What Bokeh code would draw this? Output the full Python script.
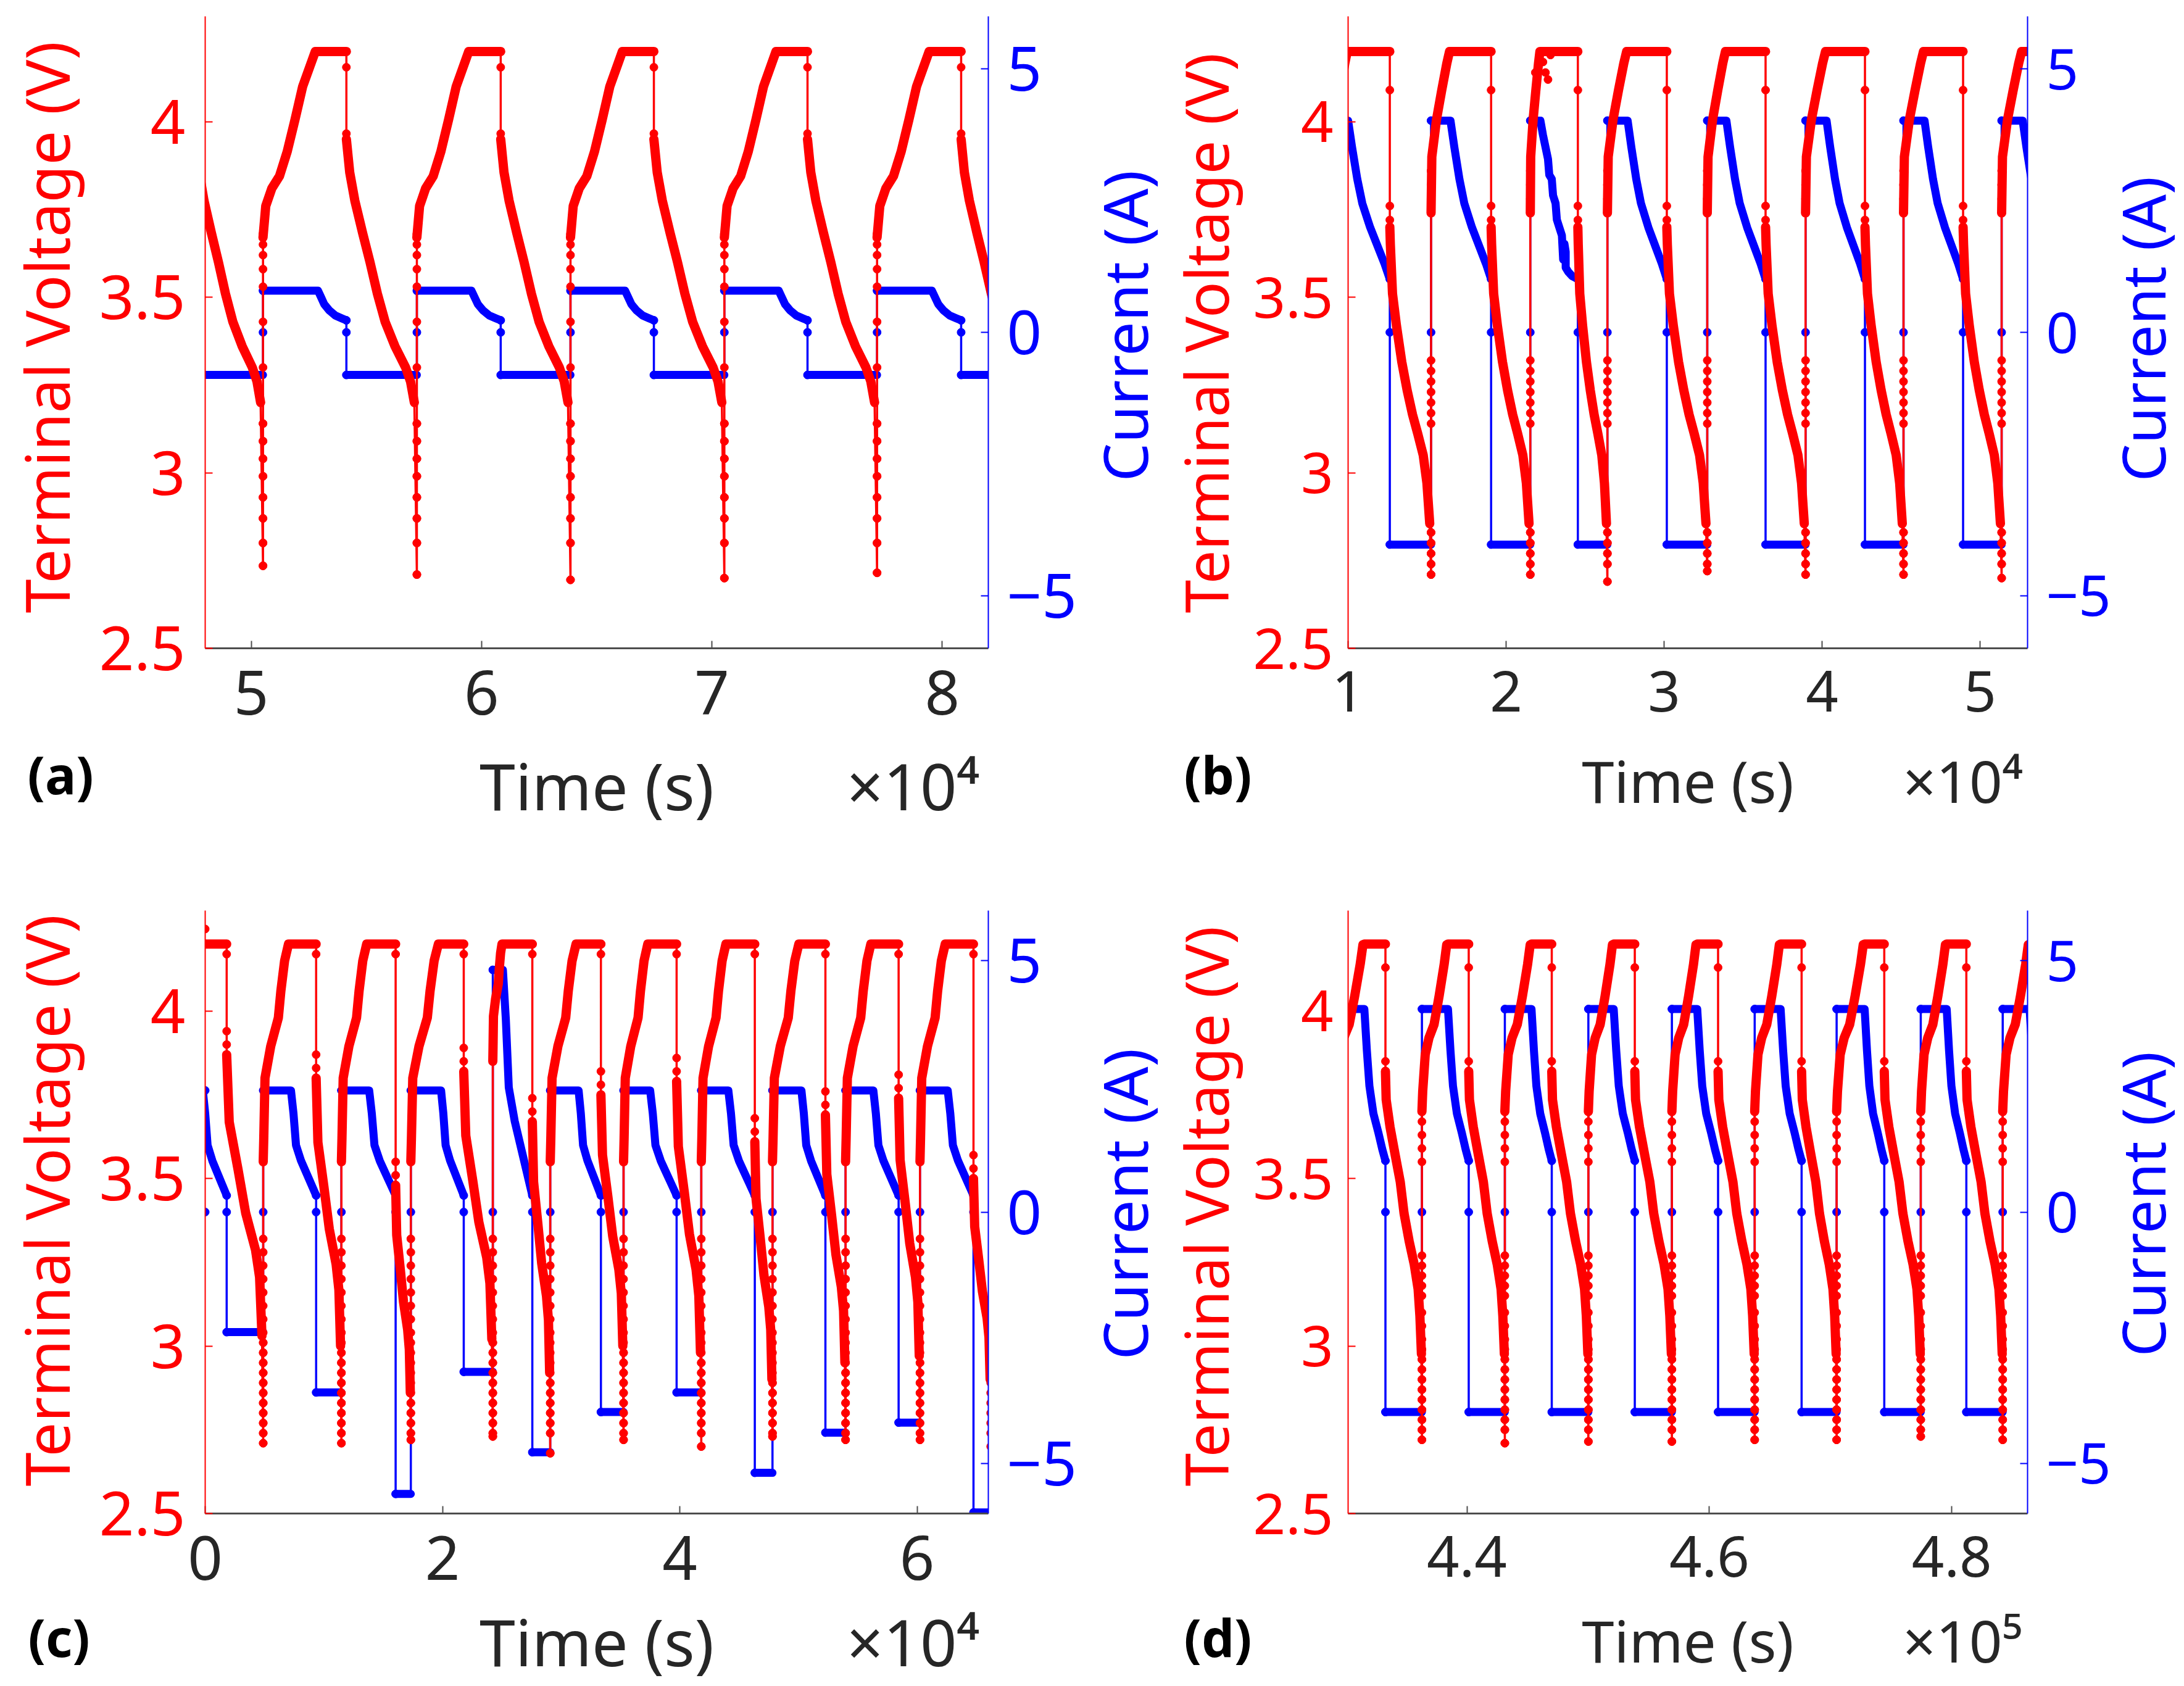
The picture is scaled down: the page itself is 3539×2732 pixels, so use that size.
import math

import numpy as np
from bokeh.embed import file_html
from bokeh.layouts import column, row
from bokeh.models import FixedTicker, Label, LinearAxis, Range1d, Spacer
from bokeh.plotting import figure
from bokeh.resources import INLINE

RED = "#ff0000"
BLUE = "#0000ff"
INK = "#262626"
FONT = "Noto Sans"

V_TOP = 4.2
VOLT_RANGE = (2.5, 4.3)
CURR_RANGE = (-6, 6)
VOLT_TICKS = [2.5, 3, 3.5, 4]
VOLT_LABELS = ["2.5", "3", "3.5", "4"]
CURR_TICKS = [-5, 0, 5]
CURR_LABELS = ["\u22125", "0", "5"]

# ---------------------------------------------------------------- panel (a)
A_X_RANGE = (48000, 82000)
A_X_TICKS = [50000, 60000, 70000, 80000]
A_X_LABELS = ["5", "6", "7", "8"]
A_EXPONENT = "\u00d710\u2074"
A_T_UP = [43850, 50510, 57190, 63860, 70540, 77170, 83800]
A_T_CV = [46230, 52900, 59560, 66230, 72900, 79550]
A_T_DN = [47600, 54130, 60830, 67480, 74150, 80820]
A_V_MIN = [2.735, 2.71, 2.695, 2.70, 2.715, 2.72]
A_I_CC = 0.79
A_I_DIS = -0.81
A_I_END = 0.228
A_CHG_F = [0, 0.05, 0.16, 0.30, 0.44, 0.58, 0.72, 0.95, 1.0]
A_CHG_V = [3.67, 3.76, 3.81, 3.845, 3.915, 4.005, 4.10, 4.20, 4.20]
A_DIS_F = [0, 0.047, 0.12, 0.23, 0.335, 0.44, 0.55, 0.69, 0.84, 0.91, 0.964]
A_DIS_V = [3.95, 3.856, 3.775, 3.683, 3.60, 3.51, 3.43, 3.36, 3.30, 3.26, 3.20]
A_CV_F = [0, 0.087, 0.217, 0.39, 0.61, 0.83, 1.0]
A_CV_I = [0.79, 0.688, 0.535, 0.42, 0.32, 0.267, 0.228]
A_JUMP_V = [2.80, 2.87, 2.93, 2.99, 3.04, 3.09, 3.14, 3.30, 3.43, 3.53, 3.58,
            3.62, 3.65, 3.68]

# ---------------------------------------------------------------- panel (b)
B_X_RANGE = (10000, 53000)
B_X_TICKS = [10000, 20000, 30000, 40000, 50000]
B_X_LABELS = ["1", "2", "3", "4", "5"]
B_EXPONENT = "\u00d710\u2074"
B_T_UP = [8900, 15250, 21530, 26410, 32730, 38950, 45150, 51360, 57600]
B_T_CV = [10000, 16480, 22170, 27690, 33940, 40280, 46480, 52690]
B_T_DN = [12640, 19050, 24540, 30170, 36420, 42710, 48920, 55200]
B_V_MIN = [2.71, 2.71, 2.69, 2.72, 2.71, 2.71, 2.70, 2.71]
B_I_CC = 4.02
B_I_DIS = -4.03
B_I_END = 1.01
B_CHG_F = [0, 0.04, 0.28, 0.55, 0.81, 0.95, 1.0]
B_CHG_V = [3.74, 3.90, 4.006, 4.09, 4.166, 4.20, 4.20]
B_DIS_F = [0, 0.013, 0.065, 0.16, 0.29, 0.42, 0.55, 0.68, 0.81, 0.90, 0.968]
B_DIS_V = [3.70, 3.65, 3.51, 3.42, 3.316, 3.235, 3.166, 3.11, 3.05, 2.97, 2.855]
B_CV_F = [0, 0.094, 0.22, 0.34, 0.53, 0.72, 0.875, 1.0]
B_CV_I = [4.02, 3.52, 2.91, 2.45, 1.99, 1.61, 1.30, 1.01]
B_JUMP_V = [2.74, 2.77, 2.80, 2.83, 3.14, 3.17, 3.20, 3.23, 3.26, 3.29, 3.32,
            3.74, 3.78, 3.82, 3.86]
# third cycle of (b): the taper is noisy
B_IRR_T = [22170, 22330, 22490, 22650, 22730, 22890, 22970, 23130, 23210, 23370,
           23530, 23610, 23690, 23770, 23770, 23930, 24170, 24540]
B_IRR_I = [4.02, 3.75, 3.52, 3.29, 2.99, 2.91, 2.60, 2.45, 2.14, 1.99,
           1.84, 1.38, 1.68, 1.53, 1.23, 1.15, 1.07, 1.01]
B_IRR_RED_T = [21850, 22090, 22330, 22490, 22650, 22810]
B_IRR_RED_V = [4.14, 4.18, 4.17, 4.14, 4.12, 4.19]

# ---------------------------------------------------------------- panel (c)
C_X_RANGE = (0, 66000)
C_X_TICKS = [0, 20000, 40000, 60000]
C_X_LABELS = ["0", "2", "4", "6"]
C_EXPONENT = "\u00d710\u2074"
C_T_UP = [-3000, 4890, 11480, 17330, 24240, 29080, 35260, 41810, 47810, 53970,
          60240, 66200]
C_T_CV = [-200, 7230, 13820, 19880, 25090, 31470, 37500, 44090, 50250, 56310,
          62580]
C_T_DN = [1810, 9350, 16050, 21790, 27570, 33350, 39730, 46320, 52270, 58440,
          64750]
C_I_CC = [2.42, 2.42, 2.42, 2.42, 4.82, 2.42, 2.42, 2.42, 2.42, 2.42, 2.42]
C_I_DIS = [-2.39, -3.59, -5.61, -3.18, -4.78, -3.98, -3.59, -5.19, -4.39, -4.19,
           -5.98]
C_I_END = 0.33
C_V_CHG0 = [3.55, 3.55, 3.55, 3.55, 3.85, 3.55, 3.55, 3.55, 3.55, 3.55, 3.55]
C_V_DIS0 = [3.87, 3.80, 3.48, 3.82, 3.67, 3.75, 3.79, 3.61, 3.69, 3.74, 3.50]
C_V_KNEE = [3.03, 3.00, 2.86, 3.02, 2.92, 3.00, 2.98, 2.90, 2.95, 2.97, 2.90]
C_V_MIN = [2.71, 2.71, 2.72, 2.73, 2.68, 2.72, 2.70, 2.73, 2.72, 2.72, 2.70]
C_CHG_F = [0, 0.02, 0.064, 0.27, 0.545, 0.636, 0.77, 0.91, 1.0]
C_CHG_V = [3.55, 3.62, 3.80, 3.895, 3.98, 4.06, 4.15, 4.20, 4.20]
C_DIS_F = [0, 0.07, 0.31, 0.52, 0.79, 0.90, 0.966]
C_DIS_V = [3.87, 3.67, 3.53, 3.40, 3.29, 3.21, 3.035]
C_CV_F = [0, 0.1, 0.2, 0.4, 0.6, 0.8, 1.0]
C_CV_I = [2.42, 1.96, 1.33, 1.02, 0.79, 0.56, 0.33]
C_JUMP_V = [2.74, 2.77, 2.80, 2.83, 2.86, 2.89, 2.92, 2.95, 2.98, 3.01, 3.04,
            3.08, 3.12, 3.16, 3.20, 3.24, 3.28, 3.32]
C_START_RED_T = [0]
C_START_RED_V = [4.245]
C_START_BLUE_T = [0, 0]
C_START_BLUE_I = [0.0, 2.42]

# ---------------------------------------------------------------- panel (d)
D_X_RANGE = (430200, 486250)
D_X_TICKS = [440000, 460000, 480000]
D_X_LABELS = ["4.4", "4.6", "4.8"]
D_EXPONENT = "\u00d710\u2075"
D_T_UP = [429200, 436290, 443130, 450020, 456910, 463740, 470500, 477440, 484200,
          491000]
D_T_CV = [431540, 438440, 445330, 452110, 459000, 465880, 472810, 479580, 486420]
D_T_DN = [433280, 440150, 447000, 453850, 460720, 467610, 474430, 481200, 488200]
D_V_MIN = [2.72, 2.71, 2.715, 2.715, 2.72, 2.72, 2.73, 2.72, 2.72]
D_I_CC = 4.04
D_I_DIS = -3.98
D_I_END = 1.02
D_CHG_F = [0, 0.03, 0.126, 0.27, 0.466, 0.66, 0.854, 0.95, 1.0]
D_CHG_V = [3.70, 3.76, 3.87, 3.92, 3.96, 4.045, 4.14, 4.198, 4.20]
D_DIS_F = [0, 0.02, 0.126, 0.266, 0.406, 0.51, 0.65, 0.79, 0.895, 0.944, 0.986]
D_DIS_V = [3.82, 3.7355, 3.654, 3.571, 3.49, 3.396, 3.313, 3.243, 3.17, 3.09, 2.976]
D_CV_F = [0, 0.12, 0.24, 0.43, 0.67, 0.85, 1.0]
D_CV_I = [4.04, 3.21, 2.51, 1.96, 1.57, 1.25, 1.02]
D_JUMP_V = [2.75, 2.78, 2.81, 2.84, 2.87, 2.90, 2.93, 2.96, 2.99, 3.02, 3.06,
            3.10, 3.15, 3.18, 3.21, 3.24, 3.27, 3.55, 3.59, 3.63, 3.67]


def pick(v, k):
    return v[k] if isinstance(v, (list, tuple)) else v


def build(t_up, t_cv, t_dn, i_cc, i_dis, i_end, v_chg0, v_dis0, v_knee, v_min,
          chg_f, chg_v, dis_f, dis_v, cv_f, cv_i, jump_v, drop_top, drop_near,
          cv_irregular=None):
    """Lay the read cycle shapes between the read switching times."""
    keys = ("red", "red_thick", "red_dots", "blue", "blue_thick", "blue_dots")
    out = {key: ([], []) for key in keys}

    def add(key, xs, ys, gap=False):
        x, y = out[key]
        if gap and x:
            x.append(np.nan)
            y.append(np.nan)
        x.extend(xs)
        y.extend(ys)

    for k in range(len(t_dn)):
        up, cv, dn, nxt = t_up[k], t_cv[k], t_dn[k], t_up[k + 1]
        ic, idis, ie = pick(i_cc, k), pick(i_dis, k), pick(i_end, k)
        vc0, v0, vk, vm = pick(v_chg0, k), pick(v_dis0, k), pick(v_knee, k), pick(v_min, k)

        # terminal voltage
        if k > 0:
            prev = pick(v_min, k - 1)
            lv = [prev] + [v for v in jump_v if v > prev]
            add("red_dots", [up] * len(lv), lv)
        cx = [up + f * (cv - up) for f in chg_f] + [dn]
        cy = [V_TOP - (V_TOP - v) * (V_TOP - vc0) / (V_TOP - chg_v[0]) for v in chg_v] + [V_TOP]
        add("red", cx, cy)
        add("red_thick", cx, cy, gap=True)
        dv = [drop_top] + [v0 + d for d in drop_near]
        add("red_dots", [dn] * len(dv), dv)
        scale = (v0 - vk) / (dis_v[0] - dis_v[-1])
        dx = [dn + f * (nxt - dn) for f in dis_f]
        dy = [v0 - (dis_v[0] - v) * scale for v in dis_v]
        add("red", dx + [nxt], dy + [vm])
        add("red_thick", dx, dy, gap=True)
        tail = [vm] + [v for v in jump_v if vm < v < vk]
        add("red_dots", [nxt] * len(tail), tail)

        # current
        if k > 0:
            add("blue", [up, up], [0.0, ic])
            add("blue_dots", [up, up], [0.0, ic])
        if cv_irregular and k in cv_irregular:
            bx, by = cv_irregular[k]
        else:
            bx = [cv + f * (dn - cv) for f in cv_f]
            by = [ic - (cv_i[0] - i) * (ic - ie) / (cv_i[0] - cv_i[-1]) for i in cv_i]
        add("blue", [up] + list(bx), [ic] + list(by))
        add("blue_thick", [up] + list(bx), [ic] + list(by), gap=True)
        add("blue", [dn, dn, nxt], [0.0, idis, idis])
        add("blue_thick", [dn, nxt], [idis, idis], gap=True)
        add("blue_dots", [dn, dn, dn], [by[-1], 0.0, idis])

    return {k: (np.array(x, dtype=float), np.array(y, dtype=float))
            for k, (x, y) in out.items()}


def style_axis(ax, color, ticks, labels, standoff, size, line_color=None, line_width=2):
    ax.ticker = FixedTicker(ticks=ticks)
    ax.major_label_overrides = dict(zip(ticks, labels))
    ax.axis_line_color = line_color or color
    ax.axis_line_width = line_width
    ax.major_tick_line_color = line_color or color
    ax.major_tick_line_width = 2
    ax.major_tick_in = 12
    ax.major_tick_out = 0
    ax.minor_tick_line_color = None
    ax.major_label_text_color = color
    ax.major_label_text_font = FONT
    ax.major_label_text_font_size = f"{size}px"
    ax.major_label_standoff = standoff


def panel(data, x_range, x_ticks, x_labels, exponent, title_x, exponent_x,
          width, height, borders, tick_size, y_standoff, title_size, title_standoff,
          extra_red=None, extra_blue=None):
    left, right, top, bottom = borders
    p = figure(width=width, height=height,
               x_range=Range1d(*x_range), y_range=Range1d(*VOLT_RANGE),
               output_backend="svg", toolbar_location=None,
               min_border_left=left, min_border_right=right,
               min_border_top=top, min_border_bottom=bottom)
    p.extra_y_ranges = {"current": Range1d(*CURR_RANGE)}
    right_axis = LinearAxis(y_range_name="current")
    p.add_layout(right_axis, "right")
    # second row under the ticks: x title and the power-of-ten multiplier
    title_axis = LinearAxis()
    p.add_layout(title_axis, "below")

    p.outline_line_color = None
    p.grid.visible = False
    style_axis(p.xaxis[0], INK, x_ticks, x_labels, 36, tick_size,
               line_color="#4d4d4d", line_width=3)
    style_axis(p.left[0], RED, VOLT_TICKS, VOLT_LABELS, y_standoff, tick_size)
    style_axis(right_axis, BLUE, CURR_TICKS, CURR_LABELS, 30, tick_size)
    style_axis(title_axis, INK, [title_x, exponent_x], ["Time (s)", exponent],
               title_standoff, title_size)
    title_axis.axis_line_color = None
    title_axis.major_tick_line_color = None

    p.line(*data["blue"], color=BLUE, line_width=3.5, y_range_name="current")
    p.line(*data["blue_thick"], color=BLUE, line_width=13, line_cap="round",
           line_join="round", y_range_name="current")
    p.scatter(*data["blue_dots"], size=13, color=BLUE, y_range_name="current")
    if extra_blue:
        p.scatter(*extra_blue, size=13, color=BLUE, y_range_name="current")
    p.line(*data["red"], color=RED, line_width=3.5)
    p.line(*data["red_thick"], color=RED, line_width=15, line_cap="round",
           line_join="round")
    p.scatter(*data["red_dots"], size=13, color=RED)
    if extra_red:
        p.scatter(*extra_red, size=13, color=RED)
    return p


# text placement, measured off earlier renders of these labels
MID_H = 0.37   # baseline below the middle of a level text, in ems
MID_V = 0.45   # same for the rotated titles


def text_strip(x0, y0, width, height, items):
    """Bare svg canvas over the page box at (x0, y0); items give page-pixel baselines."""
    p = figure(width=width, height=height,
               x_range=Range1d(x0, x0 + width), y_range=Range1d(y0 + height, y0),
               x_axis_type=None, y_axis_type=None, min_border=0,
               output_backend="svg", toolbar_location=None)
    p.outline_line_color = None
    for s, x, y, size, color, angle, align, bold in items:
        if angle:
            x -= MID_V * size
        else:
            y -= MID_H * size
        p.add_layout(Label(x=x, y=y, text=s, angle=angle, text_font=FONT,
                           text_font_size=f"{size}px", text_color=color,
                           text_align=align, text_baseline="middle",
                           text_font_style="bold" if bold else "normal"))
    return p


UP = math.pi / 2


def v_title(x, y_start, size=99):
    return ("Terminal Voltage (V)", x, y_start, size, RED, UP, "left", False)


def i_title(x, y_start, size=99):
    return ("Current (A)", x, y_start, size, BLUE, UP, "left", False)


def tag(s, x, y):
    return (s, x, y, 84, "#000000", 0, "left", True)


data_a = build(A_T_UP, A_T_CV, A_T_DN, A_I_CC, A_I_DIS, A_I_END, A_CHG_V[0],
               A_DIS_V[0], A_DIS_V[-1], A_V_MIN, A_CHG_F, A_CHG_V, A_DIS_F, A_DIS_V,
               A_CV_F, A_CV_I, A_JUMP_V, 4.155, [0.016])
data_b = build(B_T_UP, B_T_CV, B_T_DN, B_I_CC, B_I_DIS, B_I_END, B_CHG_V[0],
               B_DIS_V[0], B_DIS_V[-1], B_V_MIN, B_CHG_F, B_CHG_V, B_DIS_F, B_DIS_V,
               B_CV_F, B_CV_I, B_JUMP_V, 4.09, [0.02, 0.06],
               cv_irregular={2: (B_IRR_T, B_IRR_I)})
data_c = build(C_T_UP, C_T_CV, C_T_DN, C_I_CC, C_I_DIS, C_I_END, C_V_CHG0,
               C_V_DIS0, C_V_KNEE, C_V_MIN, C_CHG_F, C_CHG_V, C_DIS_F, C_DIS_V,
               C_CV_F, C_CV_I, C_JUMP_V, 4.17, [0.03, 0.07])
data_d = build(D_T_UP, D_T_CV, D_T_DN, D_I_CC, D_I_DIS, D_I_END, D_CHG_V[0],
               D_DIS_V[0], D_DIS_V[-1], D_V_MIN, D_CHG_F, D_CHG_V, D_DIS_F, D_DIS_V,
               D_CV_F, D_CV_I, D_JUMP_V, 4.13, [0.03])

# page columns: L 152 | A/C 1603 | M 270 | B/D 1400 | R 114 ; rows 1408, 1324
pa = panel(data_a, A_X_RANGE, A_X_TICKS, A_X_LABELS, A_EXPONENT, 65000, 78730,
           1603, 1408, (180, 154, 26, 358), 99, 32, 104, 41)
pb = panel(data_b, B_X_RANGE, B_X_TICKS, B_X_LABELS, B_EXPONENT, 31500, 48900,
           1400, 1408, (159, 140, 26, 358), 92, 24, 94, 45,
           extra_red=(B_IRR_RED_T, B_IRR_RED_V))
pc = panel(data_c, C_X_RANGE, C_X_TICKS, C_X_LABELS, C_EXPONENT, 33000, 59650,
           1603, 1324, (180, 154, 67, 275), 99, 32, 104, 26,
           extra_red=(C_START_RED_T, C_START_RED_V),
           extra_blue=(C_START_BLUE_T, C_START_BLUE_I))
pd = panel(data_d, D_X_RANGE, D_X_TICKS, D_X_LABELS, D_EXPONENT, 458225, 480900,
           1400, 1324, (159, 140, 67, 275), 92, 24, 94, 36)

# side strips (kept in columns so their canvases are not frame-aligned with
# the panels): rotated axis titles above, panel tags below
left_1 = column(text_strip(0, 0, 152, 1190, [v_title(119, 993)]),
                text_strip(0, 1190, 152, 218, [tag("(a)", 44, 1285)]))
mid_1 = column(text_strip(1755, 0, 270, 1190,
                          [i_title(1866, 780), v_title(1996, 993, 97)]),
               text_strip(1755, 1190, 270, 218, [tag("(b)", 1918, 1285)]))
right_1 = column(text_strip(3425, 0, 114, 1190, [i_title(3514, 780, 97)]),
                 Spacer(width=114, height=218))

left_2 = column(text_strip(0, 1408, 152, 1182, [v_title(119, 2408)]),
                text_strip(0, 2590, 152, 142, [tag("(c)", 45, 2683)]))
mid_2 = column(text_strip(1755, 1408, 270, 1182,
                          [i_title(1866, 2203), v_title(1996, 2408, 97)]),
               text_strip(1755, 2590, 270, 142, [tag("(d)", 1918, 2683)]))
right_2 = column(text_strip(3425, 1408, 114, 1182, [i_title(3514, 2198, 97)]),
                 Spacer(width=114, height=142))

layout = column(row(left_1, pa, mid_1, pb, right_1),
                row(left_2, pc, mid_2, pd, right_2))
open("out.html", "w").write(file_html(layout, INLINE))
